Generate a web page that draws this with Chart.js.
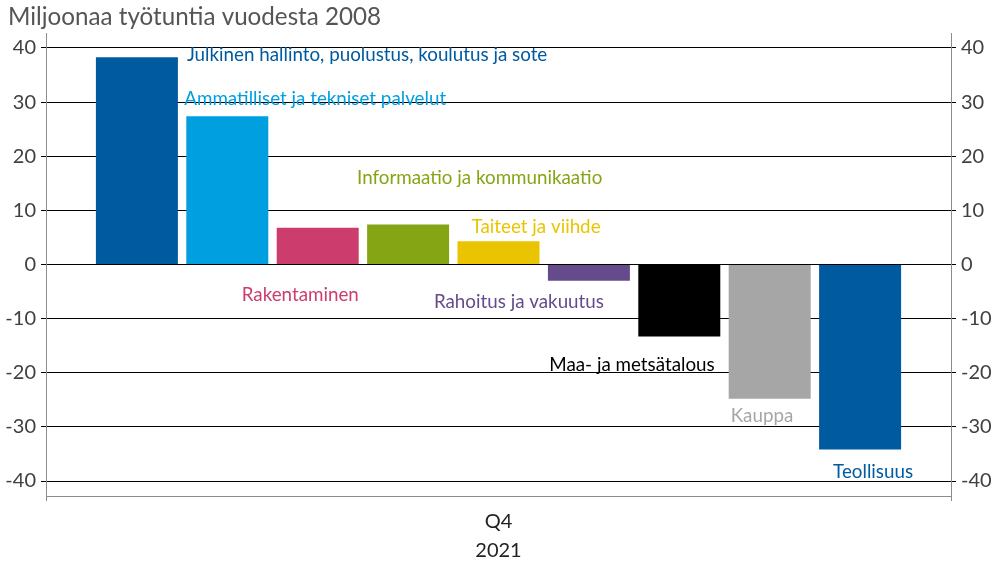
<!DOCTYPE html>
<html lang="fi">
<head>
<meta charset="UTF-8">
<title>Miljoonaa työtuntia vuodesta 2008</title>
<script src="https://cdn.jsdelivr.net/npm/chart.js"></script>
<style>
  html, body { margin: 0; padding: 0; background: #fff; }
  #wrap { width: 999px; height: 562px; }
</style>
</head>
<body>
<div id="wrap"><canvas id="chart" width="999" height="562"></canvas></div>
<script>
// data
const categories = [["Q4", "2021"]];
const seriesNames = [
  "Julkinen hallinto, puolustus, koulutus ja sote",
  "Ammatilliset ja tekniset palvelut",
  "Rakentaminen",
  "Informaatio ja kommunikaatio",
  "Taiteet ja viihde",
  "Rahoitus ja vakuutus",
  "Maa- ja metsätalous",
  "Kauppa",
  "Teollisuus"
];
const seriesValues = [38.3, 27.4, 6.8, 7.4, 4.3, -3.0, -13.3, -24.8, -34.2];
const yTicks = [-40, -30, -20, -10, 0, 10, 20, 30, 40];

// styles
const colors = ["#005aa0", "#009fe0", "#cc3d6e", "#86a515", "#eac400",
                "#654b8c", "#000000", "#a6a6a6", "#005aa0"];
// label offset from bar centre (x, left edge of text) and bar end (y, text middle)
const labelOffsets = [[50, -2], [-43, -17], [-76, 67], [-51, -47], [-27, -14],
                      [-155, 21], [-130, 28], [-39, 17], [-27, 22]];
const FONT = "Lato, 'Noto Sans', sans-serif";

const labelPlugin = {
  id: "barLabels",
  afterDatasetsDraw(chart) {
    const ctx = chart.ctx;
    ctx.save();
    ctx.font = "18.8px " + FONT;
    ctx.textAlign = "left";
    ctx.textBaseline = "middle";
    chart.data.datasets.forEach((ds, i) => {
      const bar = chart.getDatasetMeta(i).data[0];
      ctx.fillStyle = colors[i];
      ctx.fillText(ds.label, bar.x + labelOffsets[i][0], bar.y + labelOffsets[i][1]);
    });
    ctx.restore();
  }
};

const titlePlugin = {
  id: "topTitle",
  afterDraw(chart) {
    const ctx = chart.ctx;
    ctx.save();
    ctx.font = "24.2px " + FONT;
    ctx.fillStyle = "#555555";
    ctx.textBaseline = "middle";
    ctx.fillText("Miljoonaa työtuntia vuodesta 2008", 8, 17);
    ctx.restore();
  }
};

const yScale = (pos) => ({
  type: "linear",
  position: pos,
  min: -42.77,
  max: 42.77,
  afterBuildTicks: s => { s.ticks = yTicks.map(v => ({ value: v })); },
  afterFit: s => { s.width = pos === "left" ? 46 : 48; },
  border: { color: "#8c8c8c", width: 1 },
  grid: {
    color: "#000000",
    lineWidth: 1,
    tickLength: 5,
    drawOnChartArea: pos === "left"
  },
  ticks: {
    color: "#404040",
    padding: 5,
    font: { family: FONT, size: 20 }
  }
});

new Chart(document.getElementById("chart"), {
  type: "bar",
  data: {
    labels: categories,
    datasets: seriesNames.map((name, i) => ({
      label: name,
      data: [seriesValues[i]],
      backgroundColor: colors[i],
      borderWidth: 0,
      categoryPercentage: 0.899,
      barPercentage: 0.907
    }))
  },
  options: {
    responsive: false,
    animation: false,
    layout: { padding: { top: 33, left: 0, right: 0, bottom: 0 } },
    plugins: {
      legend: { display: false },
      tooltip: { enabled: false }
    },
    scales: {
      x: {
        afterFit: s => { s.height = 66; },
        border: { color: "#8c8c8c", width: 1 },
        grid: { drawOnChartArea: false, color: "#8c8c8c", tickLength: 5 },
        ticks: {
          color: "#222222",
          padding: 6,
          font: { family: FONT, size: 20, lineHeight: 1.45 }
        }
      },
      y: yScale("left"),
      y2: yScale("right")
    }
  },
  plugins: [labelPlugin, titlePlugin]
});
</script>
</body>
</html>
